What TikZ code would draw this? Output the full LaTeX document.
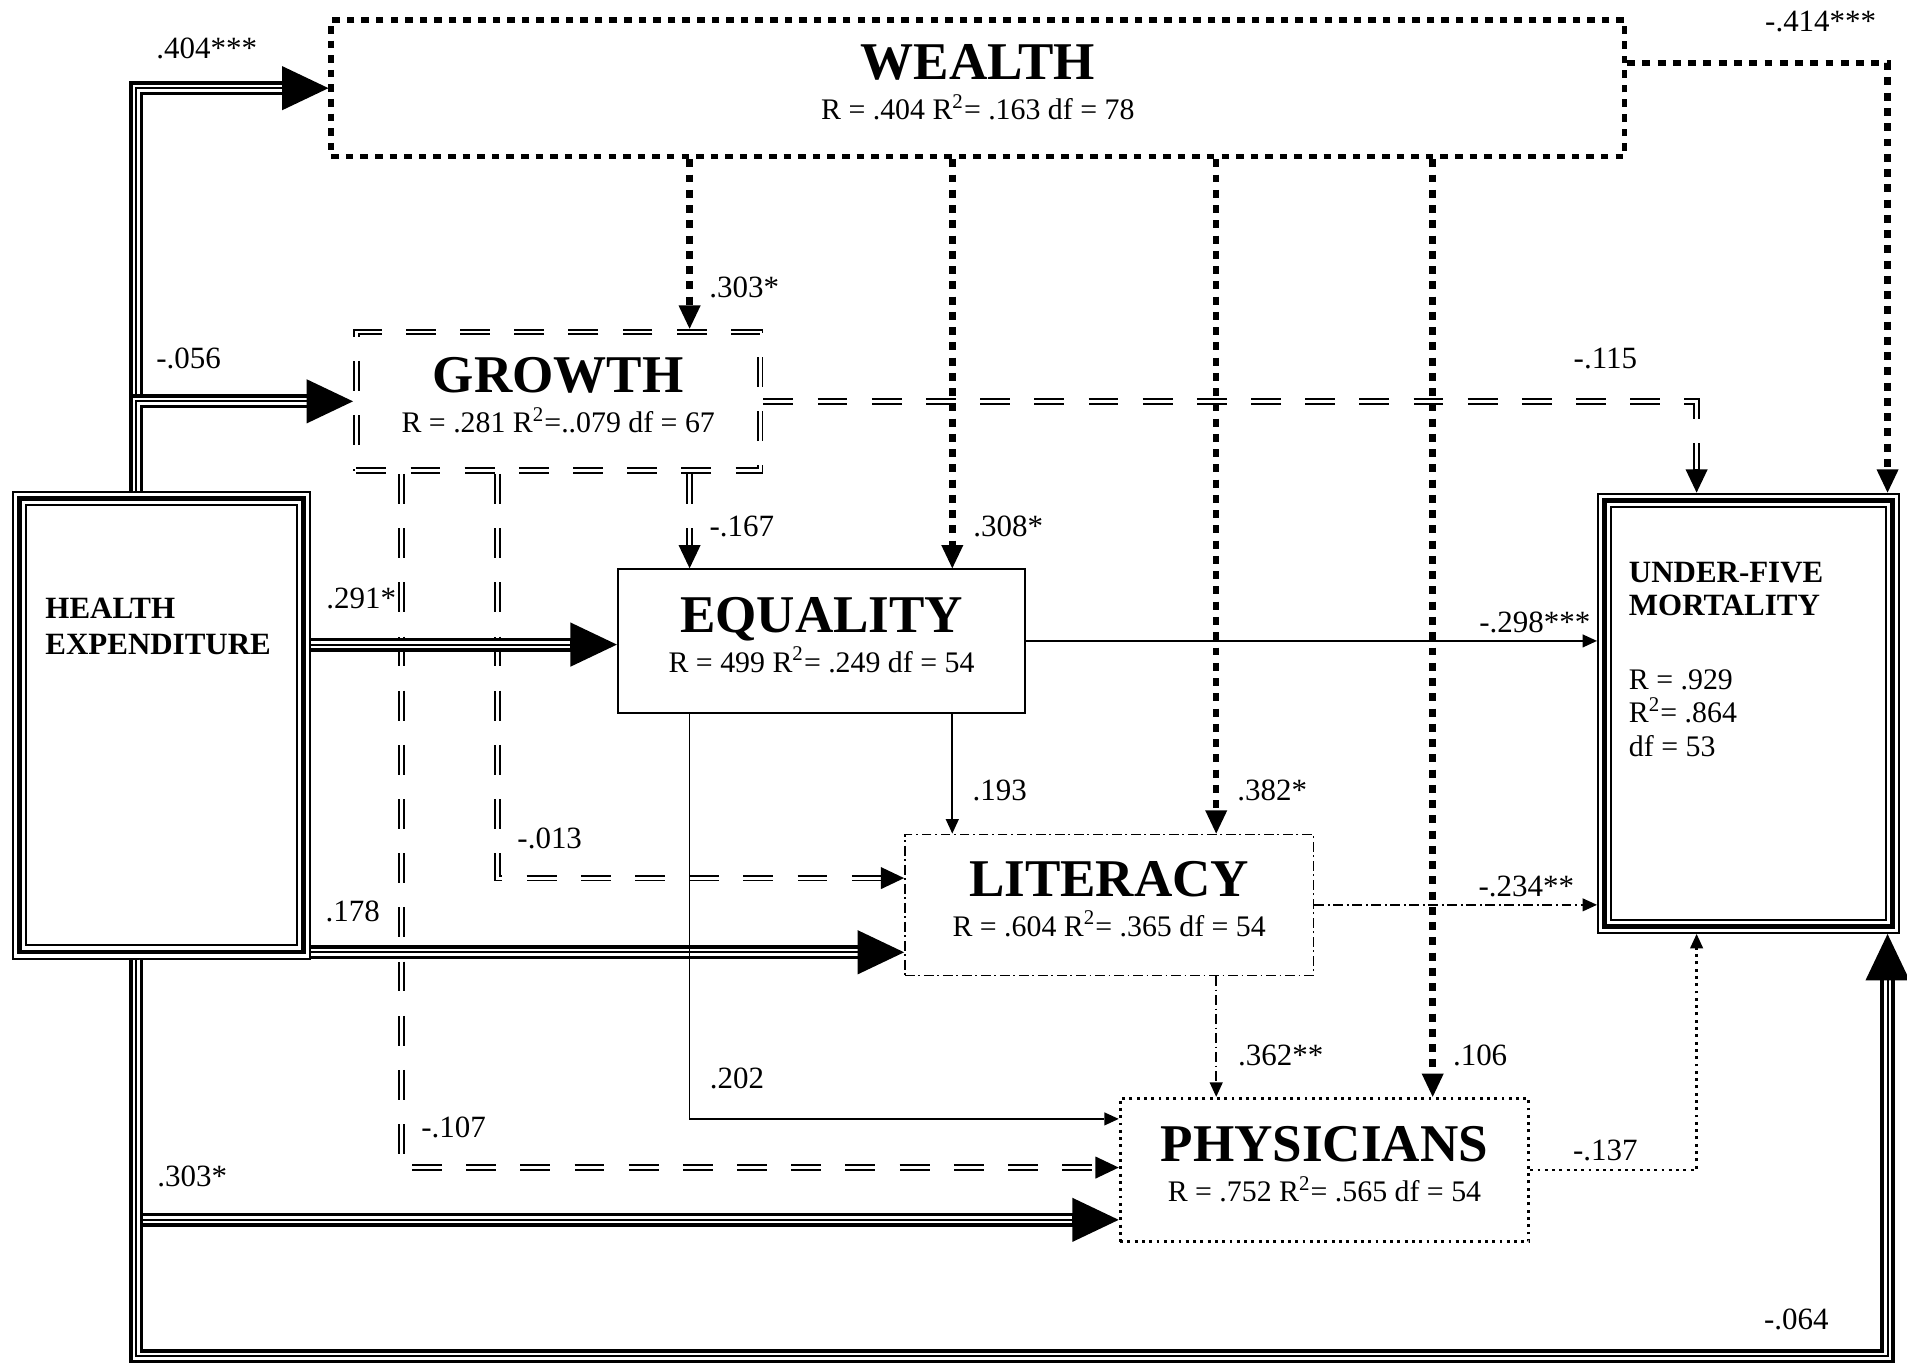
\documentclass[tikz,border=0pt]{standalone}
\usepackage{fontspec}
\setmainfont{Liberation Serif}
\usepackage{tikz}
\usetikzlibrary{arrows.meta}
\newcommand\boxtitle{\fontsize{24}{18}\selectfont\bfseries}
\newcommand\boxsub{\fontsize{13.5}{18.2}\selectfont}
\tikzstyle{varbox}=[rectangle,align=center,inner sep=0pt,font=\boxsub,text depth=5.5pt,minimum width=184.8pt,minimum height=64.5pt]
\tikzstyle{wealthbox}=[varbox,draw,line width=2.5pt,dash pattern=on 3.4pt off 3.2pt,minimum width=584.8pt,minimum height=61.8pt]
\tikzstyle{growthbox}=[varbox,draw,double,double distance=1.3pt,line width=0.85pt,dash pattern=on 13.5pt off 11pt,outer sep=1.5pt,minimum width=182.6pt,minimum height=62.7pt]
\tikzstyle{eqbox}=[varbox,draw,line width=0.8pt,minimum width=184.3pt,minimum height=64.9pt]
\tikzstyle{litbox}=[varbox,draw,line width=0.7pt,dash pattern=on 4.4pt off 1.7pt on 0.8pt off 1.7pt,minimum height=63.8pt]
\tikzstyle{physbox}=[varbox,draw,line width=1.3pt,dash pattern=on 1.3pt off 2pt,minimum height=64.9pt]
\tikzstyle{bigbox}=[rectangle,draw=white,line width=5pt,preaction={draw=black,line width=6.8pt},postaction={draw=black,line width=2.2pt},outer sep=3.4pt,inner sep=0pt]
\tikzstyle{healthline}=[draw=white,line width=3.2pt,preaction={draw=black,line width=6.4pt,arrows=-,shorten >=20.5pt},postaction={draw=black,line width=0.9pt,arrows=-,shorten >=20.5pt},-{Triangle[length=21pt,width=20pt,color=black,line width=0pt]}]
\tikzstyle{growthline}=[draw=white,line width=1.3pt,dash pattern=on 13.5pt off 11pt,preaction={draw=black,line width=3pt,arrows=-,shorten >=10pt,dash pattern=on 13.5pt off 11pt},-{Triangle[length=10.5pt,width=10pt,color=black,line width=0pt]}]
\tikzstyle{wealthline}=[draw,line width=2.9pt,dash pattern=on 3.6pt off 3.3pt,-{Triangle[length=10.5pt,width=10pt,line width=0pt]}]
\tikzstyle{eqline}=[draw,line width=0.8pt,-{Triangle[length=6.5pt,width=6pt,line width=0pt]}]
\tikzstyle{litline}=[draw,line width=0.8pt,dash pattern=on 4.4pt off 1.7pt on 0.8pt off 1.7pt,-{Triangle[length=6.5pt,width=6pt,line width=0pt]}]
\tikzstyle{physline}=[draw,line width=1.3pt,dash pattern=on 1.3pt off 2pt,-{Triangle[length=6.5pt,width=6pt,line width=0pt]}]
\tikzstyle{coef}=[font=\fontsize{14}{16}\selectfont,inner sep=0pt]

\begin{document}
\begin{tikzpicture}[x=0.55pt,y=-0.55pt]
\useasboundingbox (0,0) rectangle (1568,1124);
% variables
\node[wealthbox] (wealth) at (804,72.5) {{\boxtitle WEALTH}\\R = .404 R\textsuperscript{2}= .163 df = 78};
\node[growthbox] (growth) at (459,330) {{\boxtitle GROWTH}\\R = .281 R\textsuperscript{2}=..079 df = 67};
\node[eqbox] (eq) at (675.5,527) {{\boxtitle EQUALITY}\\R = 499 R\textsuperscript{2}= .249 df = 54};
\node[litbox] (lit) at (912,744) {{\boxtitle LITERACY}\\R = .604 R\textsuperscript{2}= .365 df = 54};
\node[physbox] (phys) at (1089,962) {{\boxtitle PHYSICIANS}\\R = .752 R\textsuperscript{2}= .565 df = 54};
\node[bigbox,minimum width=128.5pt,minimum height=204.9pt] (he) at (133,596.5) {};
\node[bigbox,minimum width=130.1pt,minimum height=192.8pt] (mort) at (1437.5,586.5) {};
\node[anchor=west,align=left,inner sep=0pt,font=\fontsize{14}{16.5}\selectfont\bfseries] (hetext) at (37,515) {HEALTH\\EXPENDITURE};
\node[anchor=west,align=left,inner sep=0pt,font=\fontsize{13.5}{15.2}\selectfont] (morttext) at (1339,542) {\textbf{\fontsize{14}{15.2}\selectfont UNDER-FIVE}\\\textbf{\fontsize{14}{15.2}\selectfont MORTALITY}\\[18pt]R = .929\\R\textsuperscript{2}= .864\\df = 53};
% growth paths
\draw[growthline] (growth.south -| 567,0) -- (eq.north -| 567,0);
\draw[growthline] (growth.east) -| (mort.north -| 1395,0);
\draw[growthline] (growth.south -| 409,0) |- (lit.west |- 0,722);
\draw[growthline] (growth.south -| 330,0) |- (phys.west |- 0,960);
% health expenditure paths
\draw[healthline] (he.north -| 112,0) |- (wealth.west);
\draw[healthline] (he.north -| 112,0) |- (growth.west);
\draw[healthline] (he.east |- 0,530) -- (eq.west |- 0,530);
\draw[healthline] (he.east |- 0,783) -- (lit.west |- 0,783);
\draw[healthline] (he.south -| 112,0) |- (phys.west |- 0,1003);
\draw[healthline] (he.south -| 112,0) |- (1552,1115) -- (mort.south -| 1552,0);
% equality, literacy, physicians paths
\draw[eqline] (eq.east) -- (mort.west |- eq.east);
\draw[eqline] (eq.south -| 783,0) -- (lit.north -| 783,0);
\draw[eqline,line width=0.6pt] (eq.south -| 567,0) |- (phys.west |- 0,920);
\draw[litline] (lit.east) -- (mort.west |- lit.east);
\draw[litline] (lit.south -| 1000,0) -- (phys.north -| 1000,0);
\draw[physline] (phys.east) -| (mort.south -| 1395,0);
% wealth paths
\draw[wealthline] (wealth.south -| 567,0) -- (growth.north -| 567,0);
\draw[wealthline] (wealth.south -| 783,0) -- (eq.north -| 783,0);
\draw[wealthline] (wealth.south -| 1000,0) -- (lit.north -| 1000,0);
\draw[wealthline] (wealth.south -| 1178,0) -- (phys.north -| 1178,0);
\draw[wealthline] (wealth.east |- 0,52) -| (mort.north -| 1552,0);
% coefficients
\node[coef] (hw) at (170,40) {.404***};
\node[coef] (hg) at (155,295) {-.056};
\node[coef] (heq) at (297,492) {.291*};
\node[coef] (hl) at (290,749) {.178};
\node[coef] (hp) at (158,967) {.303*};
\node[coef] (hm) at (1477,1085) {-.064};
\node[coef] (wg) at (612,236) {.303*};
\node[coef] (weq) at (829,433) {.308*};
\node[coef] (wl) at (1046,650) {.382*};
\node[coef] (wp) at (1217,868) {.106};
\node[coef] (wm) at (1497,18) {-.414***};
\node[coef] (geq) at (610,433) {-.167};
\node[coef] (gm) at (1320,295) {-.115};
\node[coef] (gl) at (452,689) {-.013};
\node[coef] (gp) at (373,927) {-.107};
\node[coef] (eqm) at (1262,512) {-.298***};
\node[coef] (eql) at (822,650) {.193};
\node[coef] (eqp) at (606,887) {.202};
\node[coef] (lm) at (1255,729) {-.234**};
\node[coef] (lp) at (1053,868) {.362**};
\node[coef] (pm) at (1320,946) {-.137};
\end{tikzpicture}
\end{document}
